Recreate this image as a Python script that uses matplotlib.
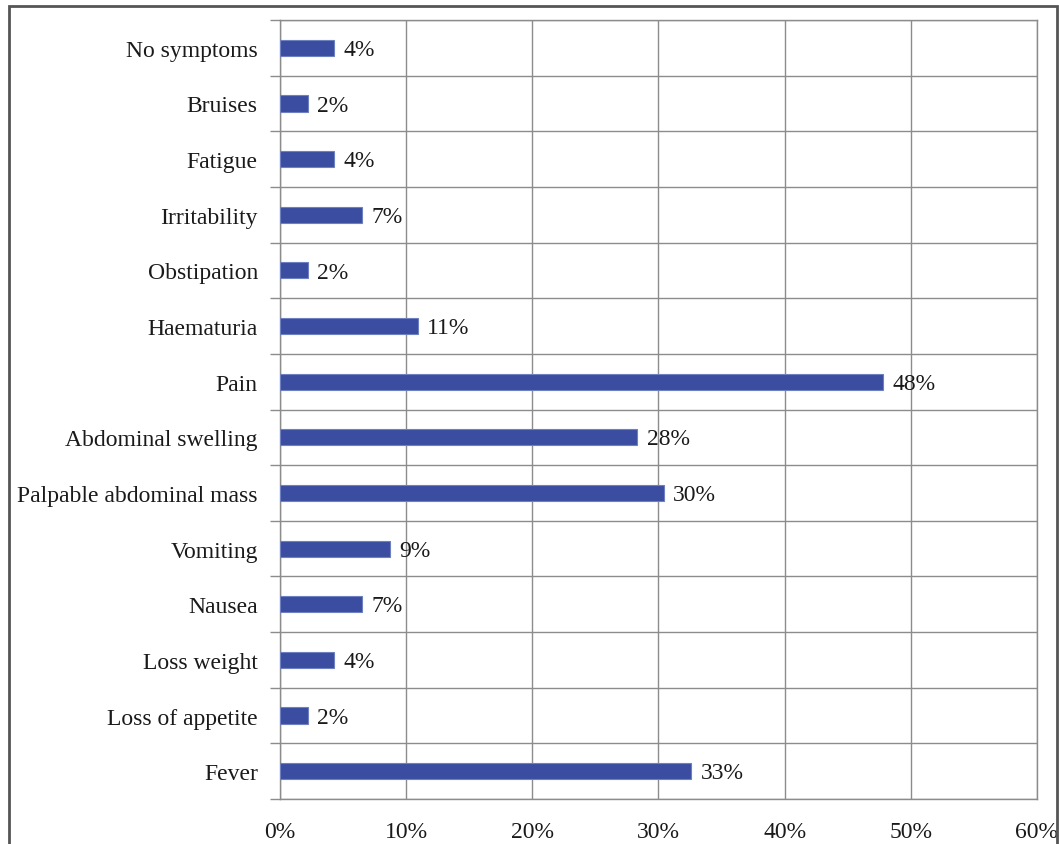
import matplotlib
matplotlib.use("Agg")
import matplotlib.pyplot as plt
from matplotlib.patches import Rectangle
import numpy as np

# symptoms, listed bottom to top as they appear on the chart
symptoms = ["Fever", "Loss of appetite", "Loss weight", "Nausea", "Vomiting",
            "Palpable abdominal mass", "Abdominal swelling", "Pain", "Haematuria",
            "Obstipation", "Irritability", "Fatigue", "Bruises", "No symptoms"]
# share of patients (%)
share = [32.6, 2.2, 4.3, 6.5, 8.7, 30.4, 28.3, 47.8, 10.9, 2.2, 6.5, 4.3, 2.2, 4.3]
x_ticks = [0, 10, 20, 30, 40, 50, 60]

plt.rcParams['font.family'] = ['Liberation Serif', 'DejaVu Serif']
text_color = '#1a1a1a'
grid_color = '#8c8c8c'
fs = 17

fig = plt.figure(figsize=(10.59, 8.45), dpi=100)
ax = fig.add_axes([0.2644, 0.0533, 0.9792 - 0.2644, 0.9751 - 0.0533])

y = np.arange(len(symptoms))
ax.barh(y, share, height=0.29, color='#3a4da0', edgecolor='#6f80c0',
        linewidth=0.8, zorder=3)

# value labels to the right of each bar
for yi, v in zip(y, share):
    ax.text(v + 0.75, yi - 0.03, f"{int(v + 0.5)}%", va='center', ha='left',
            fontsize=fs, color=text_color, zorder=4)

ax.set_xlim(0, 60)
ax.set_ylim(-0.5, len(symptoms) - 0.5)
ax.set_xticks(x_ticks)
ax.set_xticklabels([f"{t}%" for t in x_ticks], fontsize=fs, color=text_color)
ax.set_yticks(y)
ax.set_yticklabels(symptoms, fontsize=fs, color=text_color)
ax.set_yticks(np.arange(-0.5, len(symptoms)), minor=True)

ax.tick_params(axis='x', length=0, pad=16)
ax.tick_params(axis='y', which='major', length=0, pad=16)
ax.tick_params(axis='y', which='minor', length=7, width=1.0, color=grid_color)

ax.grid(axis='x', color=grid_color, linewidth=1.0, zorder=0)
ax.grid(axis='y', which='minor', color=grid_color, linewidth=1.0, zorder=0)
for side in ['left', 'right', 'top', 'bottom']:
    ax.spines[side].set_color(grid_color)
    ax.spines[side].set_linewidth(1.0)

# outer frame around the figure
fig.patches.append(Rectangle((9 / 1059, -0.05), (1057 - 9) / 1059, 1 - 7 / 845 + 0.05,
                             transform=fig.transFigure, fill=False,
                             edgecolor='#555555', linewidth=2, clip_on=False))

fig.savefig("out.png", dpi=100)
